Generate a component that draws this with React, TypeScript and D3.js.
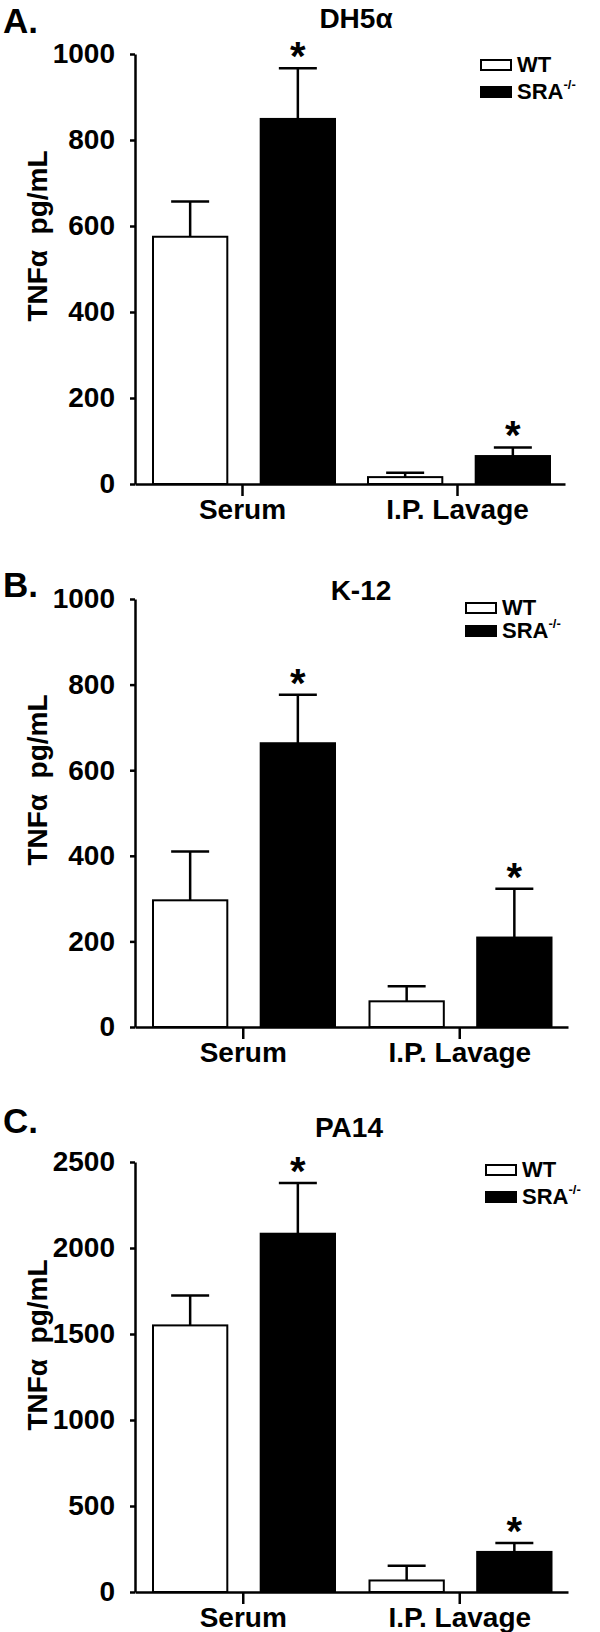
import React from 'react';
import { useRef, useEffect } from 'react';
import { select, scaleLinear, scaleBand, axisLeft, axisBottom } from "d3";

// chart data
const groups = ["Serum", "I.P. Lavage"];
const genotypes = ["WT", "SRA"];
const panelLetters = ["A.", "B.", "C."];
const strains = ["DH5α", "K-12", "PA14"];
const yMax = [1000, 1000, 2500];
const yTicks = [
  [0, 200, 400, 600, 800, 1000],
  [0, 200, 400, 600, 800, 1000],
  [0, 500, 1000, 1500, 2000, 2500],
];
const wtMeans = [[575, 16], [296, 60], [1550, 67]];
const wtErr = [[82, 10], [114, 35], [174, 86]];
const sraMeans = [[849, 65], [663, 209], [2083, 233]];
const sraErr = [[118, 20], [113, 114], [295, 52]];
const sraStar = [[true, true], [true, true], [true, true]];

// page layout of each panel
const AXIS_X = 135;
const layout = [
  { top: 54, zero: 484, xEnd: 565, letterY: 33, titleX: 356, titleY: 28, legX: 481, legY: 60, legGap: 27, labelY: 236 },
  { top: 599, zero: 1027, xEnd: 568, letterY: 597, titleX: 361, titleY: 600, legX: 466, legY: 603, legGap: 23, labelY: 780 },
  { top: 1162, zero: 1592, xEnd: 568, letterY: 1133, titleX: 349, titleY: 1137, legX: 486, legY: 1165, legGap: 27, labelY: 1345 },
];

const FONT = "'Liberation Sans', Arial, sans-serif";

function App() {
  const svgRef = useRef<SVGSVGElement>(null);

  useEffect(() => {
    const svg = select(svgRef.current);
    svg.selectAll("*").remove();

    layout.forEach((L, i) => {
      const g = svg.append("g").attr("font-family", FONT).attr("font-weight", "bold");
      const y = scaleLinear().domain([0, yMax[i]]).range([L.zero, L.top]);
      const x0 = scaleBand().domain(groups).range([AXIS_X, L.xEnd]);
      const x1 = scaleBand().domain(genotypes).range([18, 200]).paddingInner(0.31);
      const means = [wtMeans[i], sraMeans[i]];
      const errs = [wtErr[i], sraErr[i]];

      // bars + error bars
      groups.forEach((grp, gi) => {
        genotypes.forEach((gen, k) => {
          const m = means[k][gi];
          const e = errs[k][gi];
          const bx = (x0(grp) as number) + (x1(gen) as number);
          const bw = x1.bandwidth();
          const cx = bx + bw / 2;
          g.append("rect")
            .attr("x", bx)
            .attr("y", y(m))
            .attr("width", bw)
            .attr("height", L.zero - y(m))
            .attr("fill", k === 0 ? "#fff" : "#000")
            .attr("stroke", "#000")
            .attr("stroke-width", 2);
          g.append("line")
            .attr("x1", cx).attr("x2", cx)
            .attr("y1", y(m)).attr("y2", y(m + e))
            .attr("stroke", "#000").attr("stroke-width", 2.5);
          g.append("line")
            .attr("x1", cx - 19).attr("x2", cx + 19)
            .attr("y1", y(m + e)).attr("y2", y(m + e))
            .attr("stroke", "#000").attr("stroke-width", 2.5);
          if (k === 1 && sraStar[i][gi]) {
            g.append("text")
              .attr("x", cx)
              .attr("y", y(m + e) + 2)
              .attr("text-anchor", "middle")
              .attr("font-size", 40)
              .text("*");
          }
        });
      });

      // y axis
      const yAxis = axisLeft(y).tickValues(yTicks[i]).tickFormat(d => String(d))
        .tickSize(5).tickSizeOuter(0).tickPadding(15);
      const ya = g.append("g").attr("transform", `translate(${AXIS_X},0)`).call(yAxis);
      ya.attr("font-family", FONT).attr("font-size", 28).attr("font-weight", "bold");
      ya.selectAll("path, line").attr("stroke", "#000").attr("stroke-width", 2.5);
      ya.selectAll("text").attr("fill", "#000");

      // x axis
      const xAxis = axisBottom(x0).tickSize(12).tickSizeOuter(0).tickPadding(3);
      const xa = g.append("g").attr("transform", `translate(0,${L.zero})`).call(xAxis);
      xa.attr("font-family", FONT).attr("font-size", 28).attr("font-weight", "bold");
      xa.selectAll("path, line").attr("stroke", "#000").attr("stroke-width", 2.5);
      xa.selectAll("text").attr("fill", "#000");

      // panel letter and title
      g.append("text").attr("x", 3).attr("y", L.letterY).attr("font-size", 35).text(panelLetters[i]);
      g.append("text").attr("x", L.titleX).attr("y", L.titleY)
        .attr("text-anchor", "middle").attr("font-size", 28).text(strains[i]);

      // y label
      g.append("text")
        .attr("transform", `translate(47,${L.labelY}) rotate(-90)`)
        .attr("text-anchor", "middle")
        .attr("font-size", 28)
        .style("white-space", "pre")
        .text("TNFα  pg/mL");

      // legend
      const leg = g.append("g").attr("font-size", 22);
      leg.append("rect").attr("x", L.legX).attr("y", L.legY).attr("width", 30).attr("height", 10)
        .attr("fill", "#fff").attr("stroke", "#000").attr("stroke-width", 2);
      leg.append("text").attr("x", L.legX + 36).attr("y", L.legY + 12).text("WT");
      leg.append("rect").attr("x", L.legX - 1).attr("y", L.legY + L.legGap - 1).attr("width", 32).attr("height", 12)
        .attr("fill", "#000");
      const t = leg.append("text").attr("x", L.legX + 36).attr("y", L.legY + L.legGap + 12);
      t.append("tspan").text("SRA");
      t.append("tspan").attr("font-size", 13).attr("dy", -10).text("-/-");
    });
  }, []);

  return (
    <svg ref={svgRef} width={600} height={1632}
      style={{ position: "absolute", left: 0, top: 0, background: "#fff" }} />
  );
}

export default App;
